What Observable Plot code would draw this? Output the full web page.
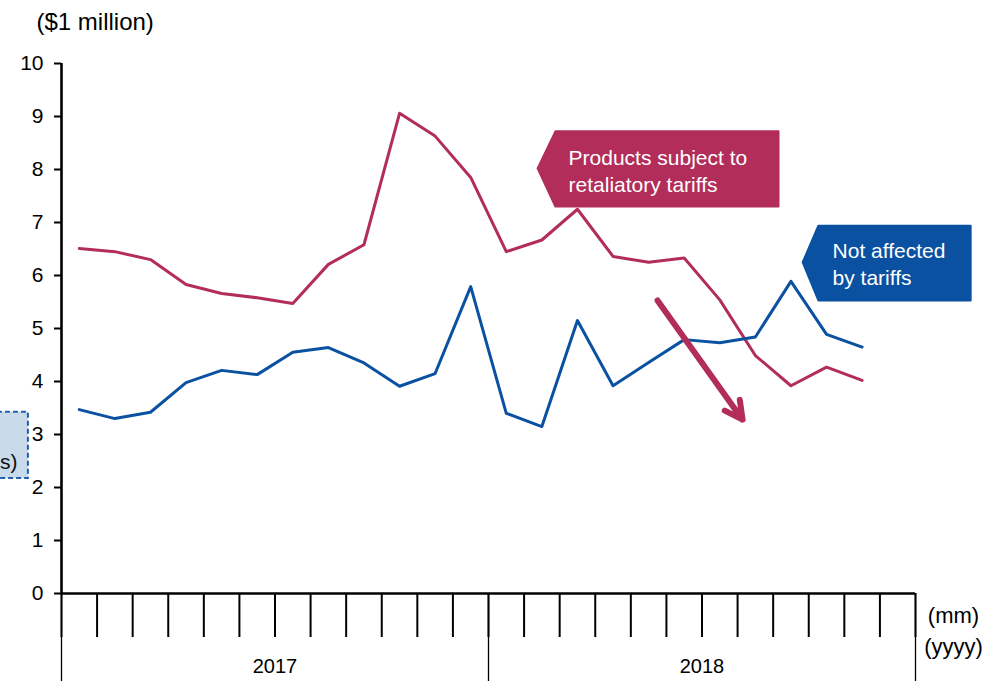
<!DOCTYPE html>
<html>
<head>
<meta charset="utf-8">
<script src="https://cdn.jsdelivr.net/npm/d3@7"></script>
<script src="https://cdn.jsdelivr.net/npm/@observablehq/plot@0.6"></script>
<style>
  html, body { margin: 0; padding: 0; background: #fff; }
  #chart svg { display: block; font-family: "Liberation Sans", Arial, sans-serif; }
</style>
</head>
<body>
<div id="chart"></div>
<script>
// ---- data ----
const monthIndex = d3.range(23); // Jan 2017 .. Nov 2018
const retaliatory = [6.51, 6.45, 6.30, 5.83, 5.66, 5.58, 5.47, 6.21, 6.58, 9.06, 8.63, 7.85,
                     6.45, 6.67, 7.25, 6.36, 6.25, 6.33, 5.54, 4.49, 3.92, 4.27, 4.02];
const notAffected = [3.47, 3.30, 3.42, 3.98, 4.21, 4.13, 4.55, 4.64, 4.35, 3.91, 4.15, 5.79,
                     3.40, 3.15, 5.15, 3.92, 4.36, 4.79, 4.73, 4.84, 5.89, 4.89, 4.65];
const yTicks = d3.range(0, 11);
const monthBoundaries = d3.range(0, 25);
const yearBoundaries = [0, 12, 24];
const yearCenters = [6, 18];
const yearLabels = ["2017", "2018"];
const yUnitLabel = "($1 million)";
const xUnitLabels = ["(mm)", "(yyyy)"];
const redLabel = "Products subject to\nretaliatory tariffs";
const blueLabel = "Not affected\nby tariffs";
const leftBoxLabel = "s)";

// annotation geometry in data units (month index, $1 million)
const redCalloutX = [13.38, 13.88, 20.15, 20.15, 13.88, 13.38];
const redCalloutY = [8.02, 8.72, 8.72, 7.30, 7.30, 8.02];
const blueCalloutX = [20.83, 21.27, 25.55, 25.55, 21.27, 20.83];
const blueCalloutY = [6.25, 6.94, 6.94, 5.53, 5.53, 6.25];
const trendArrow = [{x1: 16.75, y1: 5.53, x2: 19.14, y2: 3.28}];

const RED = "#B22D5A";
const BLUE = "#0B51A1";
const FONT = "Liberation Sans, Arial, sans-serif";

const redData = monthIndex.map(i => ({x: i + 0.5, y: retaliatory[i]}));
const blueData = monthIndex.map(i => ({x: i + 0.5, y: notAffected[i]}));
const poly = (xs, ys) => xs.map((x, i) => ({x, y: ys[i]}));

const chart = Plot.plot({
  width: 986,
  height: 681,
  marginLeft: 61,
  marginRight: 71,
  marginTop: 63,
  marginBottom: 88,
  style: {fontFamily: FONT, background: "#fff", overflow: "visible"},
  x: {domain: [0, 24], axis: null},
  y: {domain: [0, 10], axis: null},
  marks: [
    // left cropped box
    Plot.rect([{x1: -1.8, x2: -0.93, y1: 2.17, y2: 3.42}], {
      x1: "x1", x2: "x2", y1: "y1", y2: "y2",
      fill: "#C9DAEB", stroke: "#1F5FAD", strokeWidth: 2, strokeDasharray: "5,3"
    }),
    Plot.text([leftBoxLabel], {x: -1.24, y: 2.47, textAnchor: "end", fontSize: 21, fill: "#111"}),

    // y axis
    Plot.axisY({ticks: yTicks, tickSize: 7, tickPadding: 11, fontSize: 21, label: null,
                tickFormat: d => String(d), strokeWidth: 2, color: "#000"}),
    Plot.ruleX([0], {y1: 0, y2: 10, strokeWidth: 2.6, stroke: "#000"}),

    // x axis
    Plot.axisX({ticks: monthBoundaries, tickSize: 44, tickFormat: () => "", label: null, strokeWidth: 2}),
    Plot.axisX({ticks: yearBoundaries, tickSize: 88, tickFormat: () => "", label: null, strokeWidth: 1.3}),
    Plot.axisX({ticks: yearCenters, tickSize: 0, tickPadding: 65, label: null, fontSize: 20,
                tickFormat: d => yearLabels[yearCenters.indexOf(d)], fill: "#000"}),
    Plot.ruleY([0], {x1: 0, x2: 24, strokeWidth: 2.6, stroke: "#000"}),

    // unit labels
    Plot.text([yUnitLabel], {frameAnchor: "top-left", dx: -25, dy: -41, textAnchor: "start",
                             lineAnchor: "middle", fontSize: 24, fill: "#000"}),
    Plot.text([xUnitLabels[0]], {frameAnchor: "bottom-right", dx: 38, dy: 22, textAnchor: "middle",
                                 lineAnchor: "middle", fontSize: 22, fill: "#000"}),
    Plot.text([xUnitLabels[1]], {frameAnchor: "bottom-right", dx: 38, dy: 53, textAnchor: "middle",
                                 lineAnchor: "middle", fontSize: 22, fill: "#000"}),

    // series
    Plot.line(redData, {x: "x", y: "y", stroke: RED, strokeWidth: 3}),
    Plot.line(blueData, {x: "x", y: "y", stroke: BLUE, strokeWidth: 3}),

    // trend arrow
    Plot.arrow(trendArrow, {x1: "x1", y1: "y1", x2: "x2", y2: "y2", stroke: RED,
                            strokeWidth: 6, headLength: 5, headAngle: 55}),

    // callouts
    Plot.line(poly(redCalloutX, redCalloutY), {x: "x", y: "y", fill: RED, stroke: RED,
                                               strokeWidth: 2, strokeLinejoin: "round"}),
    Plot.text([redLabel], {x: 14.25, y: 8.0, textAnchor: "start", lineAnchor: "middle",
                           lineHeight: 1.28, fontSize: 21, fill: "#fff"}),
    Plot.line(poly(blueCalloutX, blueCalloutY), {x: "x", y: "y", fill: BLUE, stroke: BLUE,
                                                 strokeWidth: 2, strokeLinejoin: "round"}),
    Plot.text([blueLabel], {x: 21.67, y: 6.23, textAnchor: "start", lineAnchor: "middle",
                            lineHeight: 1.28, fontSize: 21, fill: "#fff"})
  ]
});

document.getElementById("chart").appendChild(chart);
</script>
</body>
</html>
